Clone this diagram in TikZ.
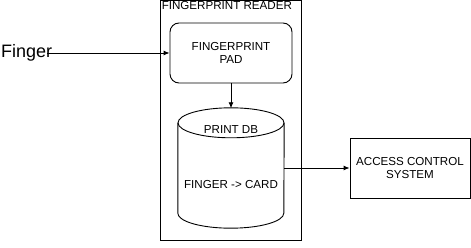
\documentclass[tikz,border=0pt]{standalone}
\usepackage{fontspec}
\setmainfont{Liberation Sans}
\usetikzlibrary{arrows.meta,calc}
\begin{document}
\begin{tikzpicture}[x=1pt,y=-1pt,
  every node/.style={font=\fontsize{11.6}{13.5}\selectfont, align=center, inner sep=0pt},
  box/.style={draw, line width=0.9pt},
  link/.style={line width=0.9pt, -{Latex[length=6pt,width=5pt]}},
  plain/.style={line width=0.9pt}]
  \useasboundingbox (0,0) rectangle (471,248);
  % reader enclosure
  \node[box, minimum width=141, minimum height=240] (reader) at (230.5,120) {};
  \node[anchor=north west] (readerlbl) at ($(reader.north west)+(2,1.5)$) {FINGERPRINT READER};
  % fingerprint pad
  \node[box, rounded corners=9pt, minimum width=122, minimum height=60] (pad) at (231,53) {FINGERPRINT\\PAD};
  % print database cylinder
  \node[minimum width=106, minimum height=120] (db) at (231,168) {};
  \draw[plain] ($(db.north west)+(0,15)$) -- ($(db.south west)+(0,-15)$)
     arc[start angle=180, end angle=360, x radius=53, y radius=-15]
     -- ($(db.north east)+(0,15)$);
  \draw[plain] ($(db.north)+(0,15)$) ellipse[x radius=53, y radius=15];
  \node (dbtitle) at ($(db.north)+(0,22)$) {PRINT DB};
  \node (dbmap) at ($(db.center)+(0,17)$) {FINGER -> CARD};
  % access control system
  \node[box, minimum width=120, minimum height=60] (acs) at (410,168) {ACCESS CONTROL\\SYSTEM};
  % finger input
  \node[anchor=west, font=\fontsize{18}{21}\selectfont] (finger) at (1,53) {Finger};
  \coordinate (fingerend) at (47,53);
  % connectors
  \draw[link] (fingerend) -- (pad.west);
  \draw[link] (pad.south) -- ($(db.north)+(0,0.5)$);
  \draw[link] (db.east) -- (acs.west);
\end{tikzpicture}
\end{document}
